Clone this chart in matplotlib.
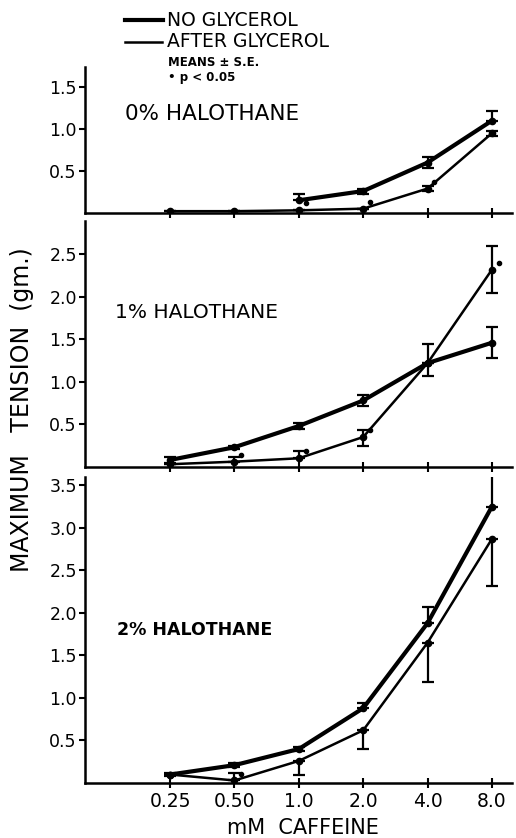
import numpy as np
import matplotlib.pyplot as plt
from matplotlib.transforms import offset_copy

plt.rcParams['font.family'] = ['DejaVu Sans']

# caffeine concentrations (mM)
caff = np.array([0.25, 0.5, 1.0, 2.0, 4.0, 8.0])
xlabels = ['0.25', '0.50', '1.0', '2.0', '4.0', '8.0']

# 0 % halothane
no_gly_0 = np.array([np.nan, np.nan, 0.15, 0.26, 0.60, 1.10])
no_gly_0_lo = np.array([0, 0, 0.00, 0.03, 0.07, 0.00])
no_gly_0_hi = np.array([0, 0, 0.07, 0.03, 0.07, 0.11])
aft_gly_0 = np.array([0.02, 0.02, 0.03, 0.05, 0.29, 0.95])
aft_gly_0_lo = np.array([0, 0, 0, 0, 0.03, 0.03])
aft_gly_0_hi = np.array([0, 0, 0, 0, 0.03, 0.03])
sig_0 = np.array([False, False, True, True, True, False])

# 1 % halothane
no_gly_1 = np.array([0.08, 0.23, 0.48, 0.78, 1.22, 1.46])
no_gly_1_lo = np.array([0.03, 0.02, 0.03, 0.06, 0.00, 0.18])
no_gly_1_hi = np.array([0.03, 0.02, 0.03, 0.06, 0.00, 0.18])
aft_gly_1 = np.array([0.03, 0.06, 0.10, 0.35, 1.22, 2.32])
aft_gly_1_lo = np.array([0.00, 0.00, 0.00, 0.11, 0.15, 0.27])
aft_gly_1_hi = np.array([0.00, 0.06, 0.08, 0.08, 0.22, 0.28])
sig_1 = np.array([False, True, True, True, False, True])

# 2 % halothane
no_gly_2 = np.array([0.10, 0.21, 0.40, 0.88, 1.88, 3.25])
no_gly_2_lo = np.array([0.02, 0.02, 0.02, 0.00, 0.00, 0.00])
no_gly_2_hi = np.array([0.02, 0.02, 0.02, 0.06, 0.19, 0.37])
aft_gly_2 = np.array([0.10, 0.03, 0.26, 0.62, 1.65, 2.87])
aft_gly_2_lo = np.array([0.00, 0.00, 0.16, 0.22, 0.46, 0.55])
aft_gly_2_hi = np.array([0.00, 0.09, 0.00, 0.00, 0.00, 0.00])
sig_2 = np.array([False, True, False, False, False, False])

panels = [
    ('0% HALOTHANE', 1.74, [0.5, 1.0, 1.5], no_gly_0, no_gly_0_lo, no_gly_0_hi,
     aft_gly_0, aft_gly_0_lo, aft_gly_0_hi, sig_0),
    ('1% HALOTHANE', 2.89, [0.5, 1.0, 1.5, 2.0, 2.5], no_gly_1, no_gly_1_lo, no_gly_1_hi,
     aft_gly_1, aft_gly_1_lo, aft_gly_1_hi, sig_1),
    ('2% HALOTHANE', 3.6, [0.5, 1.0, 1.5, 2.0, 2.5, 3.0, 3.5], no_gly_2, no_gly_2_lo, no_gly_2_hi,
     aft_gly_2, aft_gly_2_lo, aft_gly_2_hi, sig_2),
]

fig = plt.figure(figsize=(5.16, 8.38), dpi=100)
rects = [[0.165, 0.746, 0.827, 0.174],
         [0.165, 0.443, 0.827, 0.293],
         [0.165, 0.0656, 0.827, 0.3654]]
label_pos = [(0.094, 1.18), (0.07, 1.82), (0.075, 1.8)]
label_size = [15.5, 14.5, 12.5]
label_weight = ['normal', 'normal', 'bold']

for i, (name, ytop, yt, ng, ng_lo, ng_hi, ag, ag_lo, ag_hi, sig) in enumerate(panels):
    ax = fig.add_axes(rects[i])
    ax.set_xscale('log', base=2)
    ax.set_xlim(2 ** -3.32, 2 ** 3.31)
    ax.set_ylim(0, ytop)

    ax.errorbar(caff, ng, yerr=[ng_lo, ng_hi], color='k', lw=3, marker='o', ms=4.5,
                elinewidth=1.6, capsize=4, capthick=1.6)
    ax.errorbar(caff, ag, yerr=[ag_lo, ag_hi], color='k', lw=1.8, marker='o', ms=4.5,
                elinewidth=1.6, capsize=4, capthick=1.6)
    # p<0.05 dots, shifted right and up of each point
    tr = offset_copy(ax.transData, fig=fig, x=5, y=5, units='points')
    ax.plot(caff[sig], ag[sig], 'o', color='k', ms=3, transform=tr)

    ax.text(label_pos[i][0], label_pos[i][1], name, fontsize=label_size[i],
            fontweight=label_weight[i], va='center', transform=ax.get_yaxis_transform())

    for s in ['top', 'right']:
        ax.spines[s].set_visible(False)
    ax.spines['left'].set_linewidth(1.8)
    ax.spines['bottom'].set_linewidth(1.8)
    ax.set_yticks(yt)
    ax.set_yticklabels(['%.1f' % v for v in yt], fontsize=12.5)
    ax.set_xticks(caff)
    ax.minorticks_off()
    ax.tick_params(axis='y', direction='out', length=4, width=1.5, pad=2)
    ax.tick_params(axis='x', direction='inout', length=7, width=1.5, pad=3)
    if i < 2:
        ax.set_xticklabels([])
    else:
        ax.set_xticklabels(xlabels, fontsize=13.5)

fig.text(0.587, 0.012, 'mM  CAFFEINE', fontsize=15, ha='center', va='center')
fig.text(0.043, 0.511, 'MAXIMUM   TENSION  (gm.)', rotation=90, fontsize=17,
         ha='center', va='center')

# legend block above the top panel
fig.lines.append(plt.Line2D([0.242, 0.316], [0.976, 0.976], color='k', lw=3,
                            transform=fig.transFigure))
fig.lines.append(plt.Line2D([0.242, 0.314], [0.950, 0.950], color='k', lw=1.8,
                            transform=fig.transFigure))
fig.text(0.323, 0.976, 'NO GLYCEROL', fontsize=13.5, va='center')
fig.text(0.323, 0.950, 'AFTER GLYCEROL', fontsize=13.5, va='center')
fig.text(0.326, 0.925, 'MEANS \u00b1 S.E.', fontsize=8.5, fontweight='bold', va='center')
fig.text(0.326, 0.907, '\u2022 p < 0.05', fontsize=8.5, fontweight='bold', va='center')

plt.savefig('out.png', dpi=100)
